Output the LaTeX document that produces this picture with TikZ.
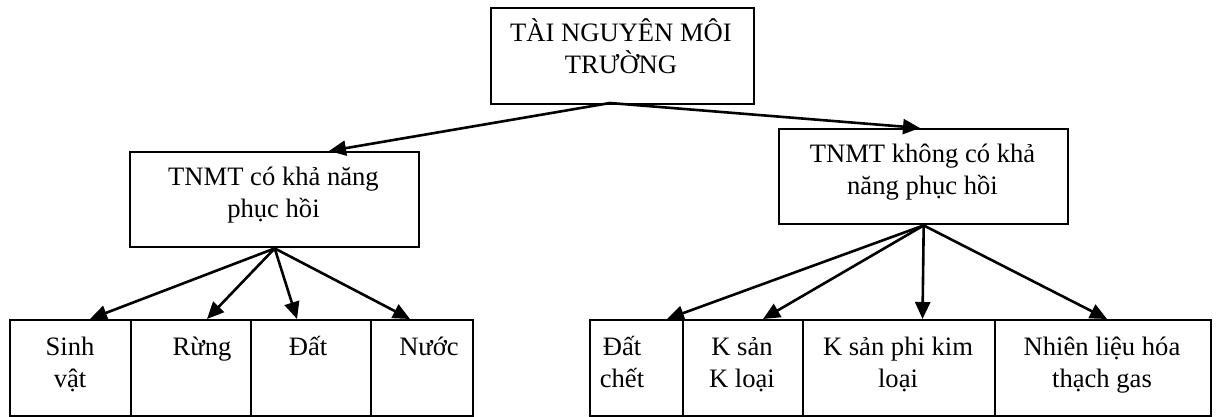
\documentclass[tikz,border=0pt]{standalone}
\usepackage{fontspec}
\setmainfont{Liberation Serif}
\usetikzlibrary{arrows.meta}
\begin{document}
\begin{tikzpicture}[x=1pt,y=-1pt,
  box/.style={draw, line width=2.4pt, inner sep=0pt, anchor=north west},
  txt/.style={font=\fontsize{26.6}{32}\selectfont, align=center, inner sep=0pt, anchor=base},
  arr/.style={line width=2.6pt, -{Triangle[length=17pt,width=15pt]}}]
\useasboundingbox (0,0) rectangle (1218,416);
% boxes
\node[box, minimum width=263pt, minimum height=96pt] (top) at (490,7) {};
\node[box, minimum width=289pt, minimum height=95pt] (lmid) at (129,151) {};
\node[box, minimum width=289pt, minimum height=95pt] (rmid) at (778,128) {};
\node[box, minimum width=121pt, minimum height=96pt] (l1) at (9,319) {};
\node[box, minimum width=120pt, minimum height=96pt] (l2) at (130,319) {};
\node[box, minimum width=120pt, minimum height=96pt] (l3) at (250,319) {};
\node[box, minimum width=102pt, minimum height=96pt] (l4) at (370,319) {};
\node[box, minimum width=93pt, minimum height=96pt] (r1) at (589,319) {};
\node[box, minimum width=120pt, minimum height=96pt] (r2) at (682,319) {};
\node[box, minimum width=192pt, minimum height=96pt] (r3) at (802,319) {};
\node[box, minimum width=216pt, minimum height=96pt] (r4) at (994,319) {};
% texts (anchor = baseline of last line)
\node[txt] (ttop) at (621,73) {TÀI NGUYÊN MÔI\\TRƯỜNG};
\node[txt] (tlmid) at (273.5,217) {TNMT có khả năng\\phục hồi};
\node[txt] (trmid) at (922.5,194) {TNMT không có khả\\năng phục hồi};
\node[txt] (tl1) at (70,387) {Sinh\\vật};
\node[txt] (tl2) at (202,355) {Rừng};
\node[txt] (tl3) at (308,355) {Đất};
\node[txt] (tl4) at (429,355) {Nước};
\node[txt] (tr1) at (622,387) {Đất\\chết};
\node[txt] (tr2) at (742,387) {K sản\\K loại};
\node[txt] (tr3) at (898,387) {K sản phi kim\\loại};
\node[txt] (tr4) at (1102,387) {Nhiên liệu hóa\\thạch gas};
% connector points
\coordinate (src) at (610,103);
\coordinate (e1) at (329,151);
\coordinate (e2) at (920,128);
\coordinate (a1) at (90,319);
\coordinate (a2) at (207,319);
\coordinate (a3) at (297,319);
\coordinate (a4) at (410,319);
\coordinate (b1) at (667,319);
\coordinate (b2) at (763,319);
\coordinate (b3) at (922.5,319);
\coordinate (b4) at (1107,319);
% arrows
\draw[arr] (src) -- (e1);
\draw[arr] (src) -- (e2);
\foreach \t in {a1,a2,a3,a4} \draw[arr] (lmid.south) -- (\t);
\foreach \t in {b1,b2,b3,b4} \draw[arr] (rmid.south) -- (\t);
\end{tikzpicture}
\end{document}
